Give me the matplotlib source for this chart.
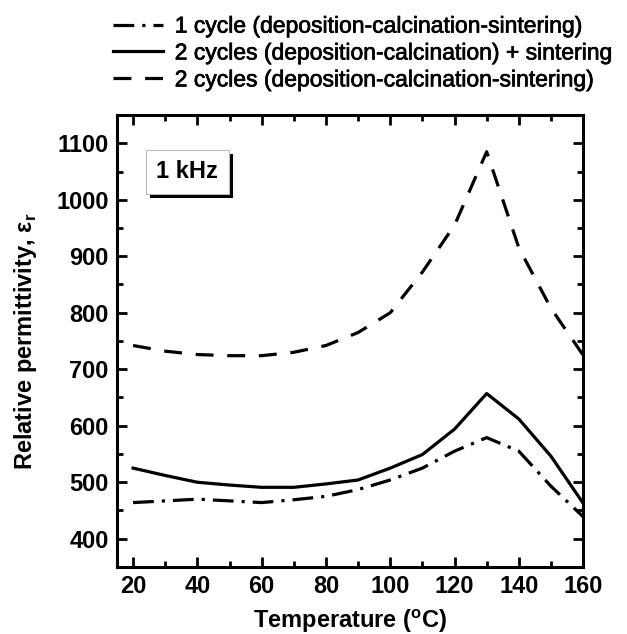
import matplotlib
matplotlib.use('Agg')
import matplotlib.pyplot as plt
import matplotlib.patheffects as pe
from matplotlib.ticker import MultipleLocator

plt.rcParams['font.family'] = ['Liberation Sans', 'DejaVu Sans']

# Temperature points (°C)
temperature = [20, 30, 40, 50, 60, 70, 80, 90, 100, 110, 120, 130, 140, 150, 160]

# Relative permittivity at 1 kHz
one_cycle = [464, 467, 470, 467, 464, 469, 475, 487, 504, 525, 555, 579, 555, 493, 439]
two_cycles_sep = [525, 512, 500, 495, 491, 491, 497, 504, 525, 549, 594, 657, 612, 546, 463]
two_cycles_full = [742, 732, 726, 724, 724, 730, 742, 765, 800, 872, 955, 1085, 915, 808, 725]

labels = ['1 cycle (deposition-calcination-sintering)',
          '2 cycles (deposition-calcination) + sintering',
          '2 cycles (deposition-calcination-sintering)']

fig = plt.figure(figsize=(6.27, 6.34), dpi=100)
ax = fig.add_axes([0.1866, 0.1057, 0.7434, 0.7129])

lw = 2.3
l1, = ax.plot(temperature, one_cycle, color='black', lw=lw, dashes=(6.5, 2.5, 1, 2.5))
l2, = ax.plot(temperature, two_cycles_sep, color='black', lw=lw, ls='-')
l3, = ax.plot(temperature, two_cycles_full, color='black', lw=lw, dashes=(5.6, 4.3))

ax.set_xlim(15, 160)
ax.set_ylim(350, 1150)
ax.xaxis.set_major_locator(MultipleLocator(20))
ax.xaxis.set_minor_locator(MultipleLocator(10))
ax.yaxis.set_minor_locator(MultipleLocator(50))
ax.set_yticks([400, 500, 600, 700, 800, 900, 1000, 1100])

ax.tick_params(which='both', direction='in', top=True, right=True, width=2)
ax.tick_params(which='major', length=7, labelsize=17, pad=6)
ax.tick_params(which='minor', length=4)
for t in ax.get_xticklabels() + ax.get_yticklabels():
    t.set_fontweight('bold')
for s in ax.spines.values():
    s.set_linewidth(2.2)

ax.set_xlabel('Temperature ($^{\\mathregular{o}}$C)', fontsize=17, fontweight='bold', labelpad=6)
ax.set_ylabel('Relative permittivity, ε$_{\\mathregular{r}}$', fontsize=17, fontweight='bold', labelpad=12)

txt = ax.text(0.084, 0.874, '1 kHz', transform=ax.transAxes, fontsize=17, fontweight='bold',
              va='center', ha='left',
              bbox=dict(boxstyle='square,pad=0.45', facecolor='white', edgecolor='#bbbbbb', lw=0.8))
txt.get_bbox_patch().set_path_effects([
    pe.SimplePatchShadow(offset=(3, -3), shadow_rgbFace='black', alpha=1.0), pe.Normal()])

leg = fig.legend([l1, l2, l3], labels, loc='upper left', bbox_to_anchor=(0.18, 0.977),
                 frameon=False, fontsize=16.5, handlelength=2.2, handletextpad=0.5,
                 labelspacing=0.17, borderpad=0, borderaxespad=0)
for t in leg.get_texts():
    t.set_path_effects([pe.withStroke(linewidth=0.5, foreground='black')])

fig.savefig('out.png', dpi=100)
